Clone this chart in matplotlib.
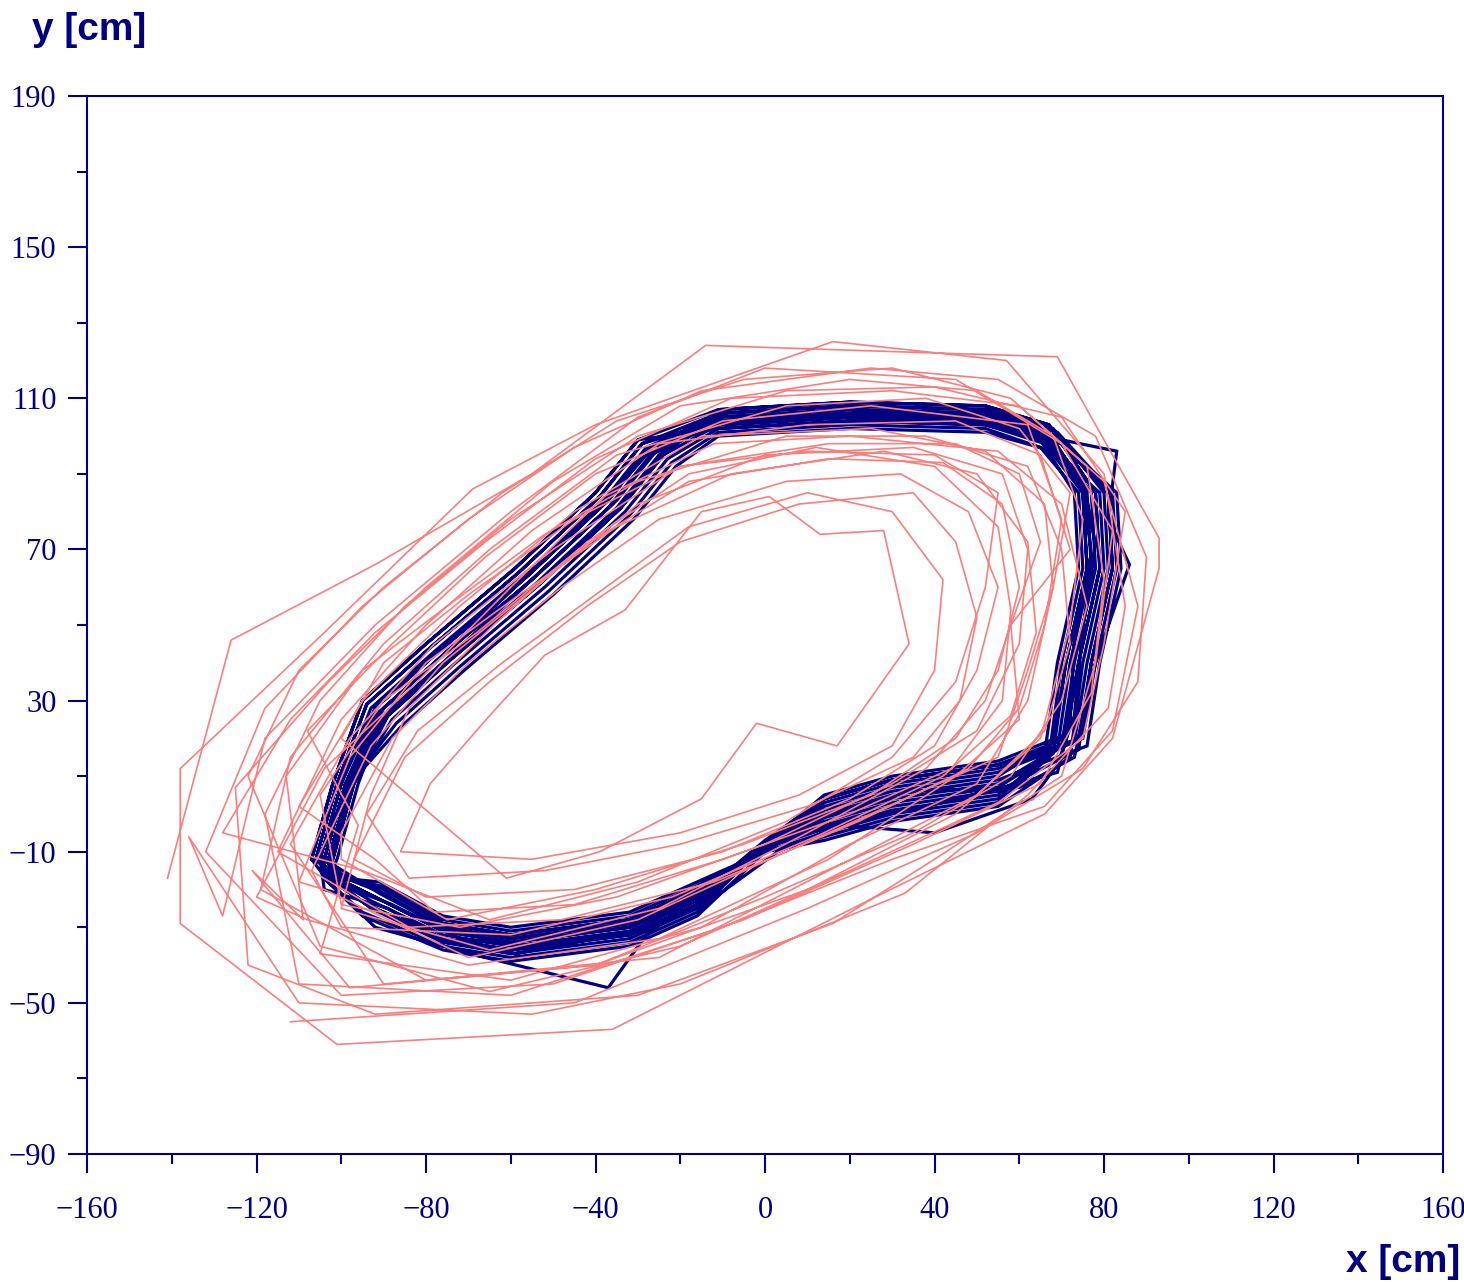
import matplotlib
matplotlib.use("Agg")
import matplotlib.pyplot as plt
from matplotlib.ticker import FixedLocator

# ---- data: navy trajectory (x, y in cm), loop after loop ----
navy_x = [
    -104, -99, -91, -76, -55, -36, -26, -11, 20, 52, 67, 77, 78, 73, 70, 55, 30, 14, 0, -16, -32, -60, -76, -92, -101,
    -106, -101, -94, -79, -58, -39, -29, -11, 20, 52, 68, 80, 81, 76, 73, 55, 30, 14, 0, -16, -32, -60, -76, -94, -103,
    -102, -97, -88, -73, -52, -33, -23, -11, 20, 52, 66, 75, 76, 71, 68, 55, 30, 14, 0, -16, -32, -60, -76, -90, -99,
    -105, -98, -90, -75, -54, -35, -25, -10, 21, 53, 70, 83, 81, 86, 78, 73, 60, 34, 15, 1, -15, -31, -59, -75, -89, -104,
    -105, -100, -93, -78, -57, -38, -28, -11, 20, 52, 69, 82, 83, 78, 75, 55, 30, 14, 0, -16, -32, -60, -76, -93, -102,
    -103, -98, -87, -72, -51, -32, -22, -11, 20, 52, 65, 74, 75, 70, 67, 55, 30, 14, 0, -16, -32, -60, -76, -91, -100,
    -103, -98, -90, -75, -56, -37, -27, -12, 19, 51, 66, 75, 77, 73, 72, 69, 56, 38, 20, 4, -12, -28, -37, -66, -92, -103,
    -107, -102, -95, -80, -59, -40, -30, -11, 20, 52, 67, 78, 79, 74, 71, 55, 30, 14, 0, -16, -32, -60, -76, -95, -104,
    -102, -97, -89, -74, -53, -34, -24, -11, 20, 52, 69, 81, 82, 77, 74, 55, 30, 14, 0, -16, -32, -60, -76, -90, -99,
    -104, -99, -92, -77, -58, -39, -28, -13, 17, 49, 65, 75, 78, 75, 73, 69, 63, 40, 18, 3, -13, -29, -57, -72, -88, -102,
    -105, -100, -92, -77, -56, -37, -27, -11, 20, 52, 66, 75, 76, 71, 68, 55, 30, 14, 0, -16, -32, -60, -76, -93, -102,
    -103, -98, -86, -71, -50, -31, -21, -11, 20, 52, 68, 79, 80, 75, 72, 55, 30, 14, 0, -16, -32, -60, -76, -91, -100,
    -106, -101, -94, -79, -58, -39, -29, -11, 20, 52, 69, 81, 82, 77, 74, 55, 30, 14, 0, -16, -32, -60, -76, -94, -103,
    -101, -96, -90, -75, -54, -35, -25, -11, 20, 52, 67, 76, 77, 72, 69, 55, 30, 14, 0, -16, -32, -60, -76, -89, -98,
    -107, -102, -95, -80, -59, -40, -30, -11, 20, 52, 70, 83, 84, 79, 76, 55, 30, 14, 0, -16, -32, -60, -76, -95, -104,
    -104, -99, -89, -74, -53, -34, -24, -11, 20, 52, 67, 78, 79, 74, 71, 55, 30, 14, 0, -16, -32, -60, -76, -92, -101,
    -103, -98, -92, -77, -56, -37, -27, -11, 20, 52, 65, 73, 74, 69, 66, 55, 30, 14, 0, -16, -32, -60, -76, -91, -104,
]
navy_y = [
    -12, 8, 27, 42, 62, 82, 96, 104, 106, 105, 100, 85, 65, 40, 18, 8, 4, -1, -9, -22, -30, -34, -31, -22, -17,
    -12, 8, 29, 44, 64, 84, 98, 106, 108, 107, 102, 85, 65, 40, 19, 11, 7, 2, -9, -24, -32, -36, -33, -24, -17,
    -12, 8, 25, 40, 60, 80, 94, 102, 104, 103, 98, 85, 65, 40, 16, 5, 1, -4, -9, -20, -28, -32, -29, -20, -17,
    -11, 9, 28, 43, 63, 83, 97, 104, 106, 106, 99, 96, 78, 66, 40, 15, 7, 6, 0, -8, -21, -31, -37, -34, -25, -20,
    -12, 8, 28, 43, 63, 83, 97, 105, 107, 106, 101, 85, 65, 40, 20, 13, 9, 4, -8, -25, -33, -37, -34, -25, -17,
    -12, 8, 24, 39, 59, 79, 93, 101, 103, 102, 97, 85, 65, 40, 15, 3, -1, -6, -10, -19, -27, -31, -28, -19, -17,
    -13, 7, 26, 41, 61, 81, 95, 103, 105, 104, 99, 87, 69, 47, 24, 11, 7, 2, -2, -6, -18, -32, -46, -38, -30, -18,
    -12, 8, 30, 45, 65, 85, 99, 107, 109, 108, 103, 85, 65, 40, 21, 14, 10, 5, -8, -26, -34, -38, -35, -26, -17,
    -12, 8, 26, 41, 61, 81, 95, 103, 105, 104, 99, 85, 65, 40, 17, 6, 2, -3, -9, -21, -29, -33, -30, -21, -17,
    -12, 8, 26, 41, 61, 81, 95, 103, 106, 105, 101, 89, 71, 49, 26, 13, 4, -5, -3, -10, -23, -31, -35, -33, -24, -18,
    -12, 8, 28, 43, 63, 83, 97, 106, 108, 107, 102, 85, 65, 40, 19, 10, 6, 1, -9, -23, -31, -35, -32, -23, -17,
    -12, 8, 23, 38, 58, 78, 92, 100, 102, 101, 96, 85, 65, 40, 15, 2, -2, -7, -10, -18, -26, -30, -27, -18, -17,
    -12, 8, 29, 44, 64, 84, 98, 104, 106, 105, 100, 85, 65, 40, 20, 12, 8, 3, -8, -24, -32, -36, -33, -24, -17,
    -12, 8, 26, 41, 61, 81, 95, 105, 107, 106, 101, 85, 65, 40, 17, 7, 3, -2, -9, -20, -28, -32, -29, -20, -17,
    -12, 8, 30, 45, 65, 85, 99, 102, 104, 103, 98, 85, 65, 40, 18, 9, 5, 0, -10, -27, -35, -39, -36, -27, -17,
    -12, 8, 26, 41, 61, 81, 95, 107, 109, 108, 103, 85, 65, 40, 20, 13, 9, 4, -7, -22, -30, -34, -31, -22, -17,
    -12, 8, 28, 43, 63, 83, 97, 103, 105, 104, 99, 85, 65, 40, 16, 4, 0, -5, -10, -21, -29, -33, -30, -21, -12,
]

# ---- data: salmon trajectory (x, y in cm), loop after loop ----
salmon_x = [
    -141, -126, -92, -55, -14, 40, 69, 93, 93, 82, 66, 26, -36, -101, -138,
    -138, -104, -69, -40, 16, 57, 80, 85, 81, 62, 33, -20, -55, -110, -136,
    -128, -118, -92, -60, -30, 0, 45, 70, 82, 78, 70, 40, 16, -30, -92, -122,
    -125, -103, -80, -50, -20, 20, 50, 68, 75, 72, 65, 45, 10, -40, -98, -121,
    -109, -113, -95, -75, -52, -30, 5, 38, 62, 70, 72, 66, 50, 15, -25, -80,
    -119, -112, -90, -65, -35, 5, 38, 60, 72, 68, 62, 50, 20, -15, -60, -105,
    -96, -108, -88, -66, -40, -10, 25, 62, 70, 66, 60, 48, 22, -12, -48, -84,
    -115, -100, -80, -55, -25, 10, 45, 65, 72, 58, 60, 45, 15, -25, -70, -108,
    -120, -104, -82, -60, -38, -12, 20, 55, 70, 76, 70, 58, 35, 0, -40, -90,
    -112, -98, -78, -50, -20, 15, 45, 60, 65, 58, 52, 38, 10, -25, -65, -100,
    -93, -84, -64, -42, -18, 12, 40, 55, 58, 56, 44, 20, -10, -45, -78, -92,
    -110, -95, -72, -45, -15, 25, 52, 66, 68, 62, 55, 35, 5, -30, -70, -104,
    -110, -98, -80, -58, -35, -8, 28, 50, 62, 64, 58, 42, 12, -22, -60, -100,
    -107, -93, -76, -52, -30, 0, 35, 56, 62, 60, 50, 30, 0, -35, -72, -100,
    -105, -90, -68, -44, -18, 15, 42, 56, 60, 55, 45, 25, -5, -40, -75, -100,
    -100, -88, -70, -48, -25, 5, 32, 48, 55, 50, 40, 20, -10, -45, -80,
    -97, -85, -65, -42, -20, 8, 35, 45, 50, 46, 35, 10, -20, -52, -84,
    -94, -82, -62, -40, -18, 10, 30, 42, 40, 30, 8, -20, -55, -86,
    -86, -79, -65, -52, -33, -15, 1, 13, 28, 34, 17, -2, -15, -39, -61,
    -100, -90, -70, -45, -20, 10, 40, 55, 52, 45, 30, 5, -30, -65, -95,
    -128, -112, -92, -66, -40, -8, 30, 60, 80, 88, 82, 66, 30, -10, -60, -110,
    -118, -105, -85, -60, -30, 5, 40, 70, 85, 80, 75, 55, 20, -20, -65, -105,
    -122, -110, -90, -62, -35, -5, 30, 58, 76, 80, 77, 65, 35, -5, -50, -100,
    -132, -118, -95, -70, -45, -15, 25, 55, 78, 90, 88, 75, 50, 10, -45, -112,
]
salmon_y = [
    -17, 46, 66, 90, 124, 122, 121, 73, 65, 20, 0, -22, -57, -61, -29,
    12, 48, 86, 103, 125, 120, 90, 55, 28, 5, -21, -45, -53, -50, -6,
    -27, 20, 50, 80, 105, 118, 115, 98, 75, 40, 10, -12, -29, -48, -53, -40,
    7, 35, 60, 88, 108, 115, 112, 100, 78, 50, 20, 0, -20, -40, -46, -15,
    -28, 10, 38, 55, 74, 88, 100, 100, 92, 70, 45, 22, 5, -15, -38, -44,
    -20, 15, 45, 70, 95, 108, 110, 102, 85, 60, 30, 8, -8, -30, -44, -37,
    -3, 22, 45, 68, 90, 104, 108, 103, 78, 50, 28, 12, -2, -18, -28, -30,
    -10, 25, 50, 75, 98, 103, 104, 95, 70, 50, 25, 10, -12, -33, -40, -28,
    -22, 12, 35, 60, 84, 98, 100, 96, 82, 55, 30, 10, -5, -22, -40, -45,
    -8, 20, 45, 70, 92, 98, 98, 90, 72, 50, 30, 12, -5, -25, -36, -25,
    5, 28, 50, 72, 90, 97, 92, 76, 54, 30, 12, 0, -12, -24, -26, -12,
    2, 30, 55, 80, 100, 102, 96, 82, 60, 38, 15, 5, -10, -28, -38, -20,
    -18, 15, 40, 58, 76, 90, 96, 90, 72, 48, 26, 10, -6, -22, -32, -30,
    -15, 18, 40, 62, 82, 95, 97, 90, 70, 45, 22, 8, -8, -22, -30, -24,
    5, 30, 48, 70, 88, 94, 93, 82, 60, 38, 20, 5, -8, -20, -28, -12,
    -5, 20, 40, 60, 78, 88, 90, 80, 60, 38, 18, 4, -10, -20, -22,
    -12, 15, 35, 55, 72, 82, 85, 72, 52, 30, 15, 2, -8, -15, -17,
    0, 22, 40, 58, 76, 85, 80, 62, 38, 18, 5, -5, -12, -10,
    -10, 8, 26, 42, 54, 80, 84, 74, 75, 45, 18, 24, 4, -10, -17,
    20, 40, 58, 78, 92, 96, 95, 85, 60, 35, 15, -2, -18, -28, -15,
    -5, 25, 48, 72, 94, 110, 112, 108, 88, 55, 22, 2, -12, -30, -48, -45,
    0, 30, 55, 78, 100, 112, 113, 105, 80, 45, 20, 3, -15, -35, -47, -35,
    10, 38, 60, 85, 104, 115, 118, 110, 92, 62, 32, 8, -8, -28, -45, -48,
    -10, 28, 55, 78, 97, 112, 118, 115, 100, 68, 35, 12, -5, -25, -50, -55,
]

x_ticks = [-160, -120, -80, -40, 0, 40, 80, 120, 160]
x_minor = [-140, -100, -60, -20, 20, 60, 100, 140]
y_ticks = [-90, -50, -10, 30, 70, 110, 150, 190]
y_minor = [-70, -30, 10, 50, 90, 130, 170]
x_label = "x [cm]"
y_label = "y [cm]"

NAVY = "#000080"
SALMON = "#FA8080"

fig = plt.figure(figsize=(14.64, 12.82), dpi=100)
ax = fig.add_axes([87 / 1464, 1 - 1154 / 1282, (1443 - 87) / 1464, (1154 - 96) / 1282])

ax.plot(navy_x, navy_y, color=NAVY, lw=2.3, solid_joinstyle="miter", zorder=2)
ax.plot(salmon_x, salmon_y, color=SALMON, lw=1.2, zorder=3)

ax.set_xlim(-160, 160)
ax.set_ylim(-90, 190)
ax.set_xticks(x_ticks)
ax.set_yticks(y_ticks)
ax.xaxis.set_minor_locator(FixedLocator(x_minor))
ax.yaxis.set_minor_locator(FixedLocator(y_minor))

for s in ax.spines.values():
    s.set_color(NAVY)
    s.set_linewidth(1.5)

ax.tick_params(which="major", direction="out", length=14, width=1.5, color=NAVY,
               labelcolor=NAVY, labelsize=22)
ax.tick_params(which="minor", direction="out", length=7, width=1.5, color=NAVY)
ax.tick_params(axis="x", which="major", pad=16)
ax.tick_params(axis="y", which="major", pad=8)
for lab in ax.get_xticklabels() + ax.get_yticklabels():
    lab.set_family("Liberation Serif")

fig.text(32 / 1464, 1 - 30 / 1282, y_label, ha="left", va="center",
         fontsize=28, fontweight="bold", family="Liberation Sans", color=NAVY)
fig.text(1460 / 1464, 1 - 1262 / 1282, x_label, ha="right", va="center",
         fontsize=28, fontweight="bold", family="Liberation Sans", color=NAVY)

fig.savefig("out.png", dpi=100)
